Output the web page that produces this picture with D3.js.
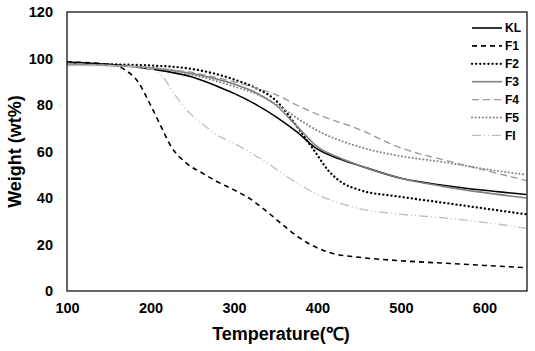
<!DOCTYPE html>
<html>
<head>
<meta charset="utf-8">
<script src="https://cdn.jsdelivr.net/npm/d3@7"></script>
<style>
  body { margin: 0; background: #fff; }
  svg { display: block; font-family: Arial, "Liberation Sans", sans-serif; }
</style>
</head>
<body>
<svg id="chart" width="535" height="351"></svg>
<script>
// temperature (°C) / weight (wt%)
const kl = [[100,98.5],[125,98],[150,97.5],[200,95.5],[250,92],[287,87],[300,85],[325,80.5],[350,75],[375,68.5],[400,61],[425,57],[450,54],[500,48.5],[550,45.5],[600,43.3],[650,41.5]];
const f1 = [[100,98.5],[150,97.5],[170,95],[185,90],[200,80],[211,72],[225,62],[243,55],[263,50.5],[280,47],[300,43.5],[320,39.5],[340,34],[360,28],[380,22.5],[400,18.5],[420,16],[450,14.5],[500,13],[550,12],[600,11],[650,10]];
const f2 = [[100,98],[150,97.5],[200,97],[250,95.5],[300,91],[325,87.5],[350,82],[375,71],[395,61],[415,51],[430,46.5],[450,43.5],[500,40.5],[550,38],[600,35.5],[650,33]];
const f3 = [[100,97.5],[150,97],[200,96],[250,93.5],[300,89],[325,85.5],[350,80],[375,71],[400,62],[425,57.5],[450,54],[500,48.5],[550,45],[600,42.3],[650,40]];
const f4 = [[100,98],[150,97],[200,96],[250,94],[300,90],[325,87.5],[350,84.5],[375,80],[400,76],[450,69.5],[500,61.5],[550,56.5],[600,52],[650,47.5]];
const f5 = [[100,97.5],[150,97],[200,96],[250,93],[300,88],[325,85],[350,80.5],[375,74.5],[400,69],[450,62],[500,58],[550,55.5],[600,52.5],[650,50]];
const fi = [[100,97],[150,97],[200,95.5],[215,92],[230,84],[247,76.5],[260,72.5],[280,67],[300,63.5],[320,59.5],[340,55],[360,50],[380,45.5],[400,41.5],[425,38],[450,35.5],[500,33],[550,31.5],[600,29.5],[650,27]];

const seriesNames = ['KL', 'F1', 'F2', 'F3', 'F4', 'F5', 'FI'];
const seriesData = [kl, f1, f2, f3, f4, f5, fi];
const xTicks = [100, 200, 300, 400, 500, 600];
const yTicks = [0, 20, 40, 60, 80, 100, 120];

const styles = [
    { stroke: '#000', width: 1.6, dash: null, cap: 'butt' },
    { stroke: '#000', width: 1.6, dash: '5,4', cap: 'butt' },
    { stroke: '#000', width: 2.3, dash: '0.1,4', cap: 'round' },
    { stroke: '#7f7f7f', width: 1.6, dash: null, cap: 'butt' },
    { stroke: '#999', width: 1.3, dash: '7,4', cap: 'butt' },
    { stroke: '#888', width: 2, dash: '0.1,3.5', cap: 'round' },
    { stroke: '#bdbdbd', width: 1.3, dash: '9,3,1,3,1,3', cap: 'butt' }
];

const margin = { top: 12, right: 8, bottom: 60, left: 67 };
const width = 535 - margin.left - margin.right;
const height = 351 - margin.top - margin.bottom;

const svg = d3.select('#chart');
const g = svg.append('g').attr('transform', `translate(${margin.left},${margin.top})`);

const x = d3.scaleLinear().domain([100, 651]).range([0, width]);
const y = d3.scaleLinear().domain([0, 120]).range([height, 0]);

// tick labels (no tick marks in the original)
const xAxis = d3.axisBottom(x).tickValues(xTicks).tickSize(0).tickPadding(12);
const yAxis = d3.axisLeft(y).tickValues(yTicks).tickSize(0).tickPadding(14);

g.append('g').attr('transform', `translate(0,${height})`).call(xAxis)
    .call(a => a.select('.domain').remove())
    .selectAll('text').attr('font-size', 14.5).attr('font-weight', 'bold').attr('fill', '#000')
    .attr('font-family', 'Arial, "Liberation Sans", sans-serif');
g.append('g').call(yAxis)
    .call(a => a.select('.domain').remove())
    .selectAll('text').attr('font-size', 14.5).attr('font-weight', 'bold').attr('fill', '#000')
    .attr('font-family', 'Arial, "Liberation Sans", sans-serif');

const line = d3.line()
    .x(d => x(d[0]))
    .y(d => y(d[1]))
    .curve(d3.curveMonotoneX);

svg.append('clipPath').attr('id', 'plot-clip')
    .append('rect').attr('width', width).attr('height', height);

g.append('g').attr('clip-path', 'url(#plot-clip)')
    .selectAll('path')
    .data(seriesData)
    .join('path')
    .attr('fill', 'none')
    .attr('stroke', (d, i) => styles[i].stroke)
    .attr('stroke-width', (d, i) => styles[i].width)
    .attr('stroke-dasharray', (d, i) => styles[i].dash)
    .attr('stroke-linecap', (d, i) => styles[i].cap)
    .attr('d', line);

// frame
g.append('rect')
    .attr('width', width).attr('height', height)
    .attr('fill', 'none').attr('stroke', '#000').attr('stroke-width', 1.2);

// legend
const legend = g.append('g').attr('transform', `translate(${width - 55},16)`);
const row = legend.selectAll('g')
    .data(seriesNames)
    .join('g')
    .attr('transform', (d, i) => `translate(0,${i * 17.9})`);
row.append('line')
    .attr('x1', 0).attr('x2', 30)
    .attr('stroke', (d, i) => styles[i].stroke)
    .attr('stroke-width', (d, i) => styles[i].width)
    .attr('stroke-dasharray', (d, i) => styles[i].dash)
    .attr('stroke-linecap', (d, i) => styles[i].cap);
row.append('text')
    .attr('x', 33).attr('dy', '0.36em')
    .attr('font-size', 12).attr('font-weight', 'bold')
    .text(d => d);

// axis titles
svg.append('text')
    .attr('x', 281).attr('y', 340)
    .attr('text-anchor', 'middle')
    .attr('font-size', 18).attr('font-weight', 'bold')
    .text('Temperature(℃)');

svg.append('text')
    .attr('transform', `translate(21,${margin.top + height / 2}) rotate(-90)`)
    .attr('text-anchor', 'middle')
    .attr('font-size', 18).attr('font-weight', 'bold')
    .text('Weight (wt%)');
</script>
</body>
</html>
